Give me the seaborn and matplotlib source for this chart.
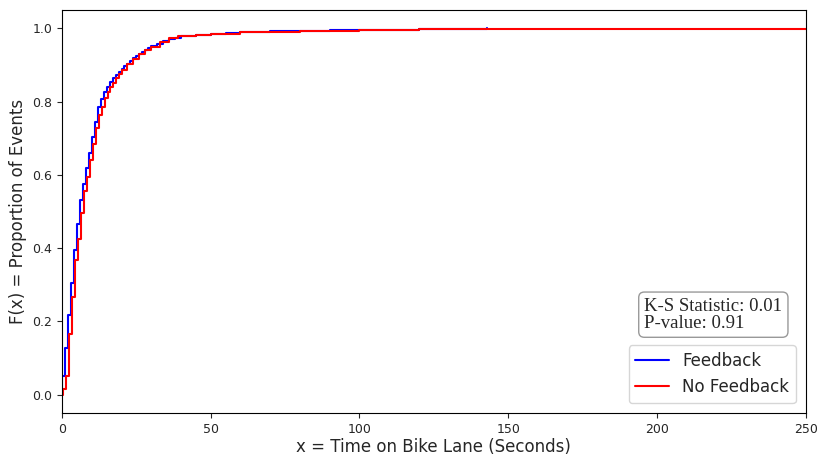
import numpy as np
import pandas as pd
import seaborn as sns
import matplotlib.pyplot as plt

# ECDF steps: time (s) and cumulative proportion
fb_time = [0, 1, 2, 3, 4, 5, 6, 7, 8, 9, 10, 11, 12, 13, 14, 15, 16, 17, 18, 19,
           20, 21, 22, 23, 24, 25, 26, 27, 28, 29, 30, 32, 34, 36, 38, 40, 45, 50,
           55, 60, 70, 75, 90, 100, 120, 143]
fb_cum = [0.052, 0.127, 0.218, 0.304, 0.396, 0.465, 0.531, 0.576, 0.620, 0.661,
          0.704, 0.745, 0.785, 0.806, 0.827, 0.840, 0.854, 0.864, 0.873, 0.882,
          0.888, 0.897, 0.904, 0.911, 0.918, 0.924, 0.930, 0.936, 0.942, 0.947,
          0.951, 0.958, 0.965, 0.971, 0.975, 0.978, 0.981, 0.984, 0.987, 0.990,
          0.992, 0.994, 0.995, 0.996, 0.998, 1.000]

nofb_time = [0.3, 1.3, 2.3, 3.3, 4.3, 5.3, 6.3, 7.3, 8.3, 9.3, 10.3, 11.3, 12.3,
             13.3, 14.3, 15.3, 16.3, 17.3, 18.3, 19.3, 20.3, 22, 24, 26, 28, 30,
             33, 36, 39, 45, 50, 60, 80, 100, 120, 150, 260]
nofb_cum = [0.015, 0.052, 0.167, 0.267, 0.367, 0.425, 0.497, 0.556, 0.595, 0.640,
            0.685, 0.729, 0.763, 0.784, 0.811, 0.825, 0.840, 0.852, 0.864, 0.875,
            0.886, 0.903, 0.917, 0.929, 0.941, 0.950, 0.962, 0.974, 0.979, 0.982,
            0.985, 0.990, 0.993, 0.995, 0.997, 0.999, 1.000]

ks_stat = 0.01
p_value = 0.91

def to_frame(t, cum):
    w = np.diff(np.concatenate([[0.0], cum]))
    return pd.DataFrame({'tempo': t, 'peso': w})

df_fb = to_frame(fb_time, fb_cum)
df_nofb = to_frame(nofb_time, nofb_cum)

sns.set_style('ticks')

fig = plt.figure(figsize=(8.18, 4.57), dpi=100)
ax = fig.add_axes([0.0758, 0.0963, 0.9092, 0.8817])

sns.ecdfplot(data=df_fb, x='tempo', weights='peso', color='blue',
             linewidth=1.5, label='Feedback', ax=ax)
sns.ecdfplot(data=df_nofb, x='tempo', weights='peso', color='red',
             linewidth=1.5, label='No Feedback', ax=ax)

ax.set_xlim(0, 250)
ax.set_ylim(-0.05, 1.05)
ax.set_xlabel('x = Time on Bike Lane (Seconds)', fontsize=12, labelpad=2)
ax.set_ylabel('F(x) = Proportion of Events', fontsize=12)
ax.tick_params(labelsize=9)
for s in ax.spines.values():
    s.set_color('black')

ax.legend(loc='lower right', fontsize=12, borderaxespad=0.6)

# caixa com o resultado do teste K-S
ax.text(0.783, 0.244, f'K-S Statistic: {ks_stat:.2f}\nP-value: {p_value:.2f}',
        transform=ax.transAxes, fontsize=13.5, family='Liberation Serif',
        va='center', ha='left', linespacing=1.0,
        bbox=dict(boxstyle='round,pad=0.3', facecolor='white', edgecolor='#999999'))

fig.savefig('out.png', dpi=100)
